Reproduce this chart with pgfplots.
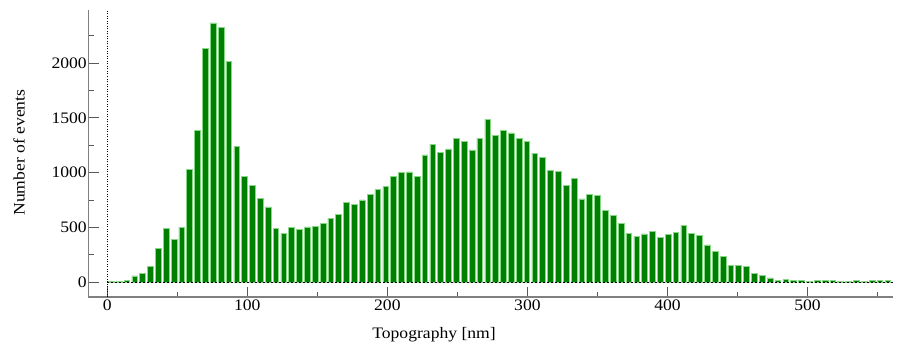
\documentclass[border=0pt]{standalone}
\usepackage{fontspec}
\setmainfont{Liberation Serif}[FakeStretch=1.1]
\usepackage{pgfplots}
\pgfplotsset{compat=1.18}
\definecolor{barfill}{RGB}{0,128,0}
\definecolor{baredge}{RGB}{135,215,135}
\definecolor{spine}{RGB}{128,128,128}
\begin{document}
\begin{tikzpicture}[x=1pt,y=1pt]
\useasboundingbox (0,0) rectangle (905,349);
\begin{axis}[
  at={(88.5pt,52pt)}, anchor=south west,
  scale only axis, width=804.5pt, height=287pt,
  xmin=-13.4, xmax=561, ymin=-137, ymax=2486,
  axis x line*=bottom, axis y line*=left,
  axis line style={spine, line width=1.2pt},
  xtick={0,100,200,300,400,500},
  minor xtick={50,150,250,350,450,550},
  ytick={0,500,1000,1500,2000},
  minor ytick={250,750,1250,1750,2250},
  tick align=inside,
  major tick length=10pt, minor tick length=5pt,
  every tick/.style={black!65, line width=0.8pt},
  /pgf/number format/assume math mode=true,
  /pgf/number format/1000 sep={},
  tick label style={font=\fontsize{16}{19}\selectfont, black},
  xticklabel style={inner sep=3pt},
  yticklabel style={inner sep=1.5pt},
  every axis x label/.style={at={(axis description cs:0.4295,-0.132)}, anchor=center, font=\fontsize{16}{19}\selectfont},
  every axis y label/.style={at={(axis description cs:-0.0864,0.503)}, anchor=center, rotate=90, font=\fontsize{16}{19}\selectfont},
  xlabel={Topography [nm]},
  ylabel={Number of events},
  clip=false,
]
\addplot[ybar, bar width=4.1, fill=barfill, draw=baredge, line width=0.6pt] coordinates {
(2.8,5) (8.4,5) (14.0,18) (19.6,55) (25.2,82) (30.8,143) (36.4,307) (42.0,489) (47.6,389) (53.2,502)
(58.8,1028) (64.4,1383) (70.0,2134) (75.6,2368) (81.2,2326) (86.8,2019) (92.4,1237) (98.0,967) (103.6,882) (109.2,765)
(114.8,686) (120.4,491) (126.0,445) (131.6,497) (137.2,478) (142.8,503) (148.4,506) (154.0,539) (159.6,582) (165.2,619)
(170.8,725) (176.4,707) (182.0,750) (187.6,798) (193.2,844) (198.8,871) (204.4,966) (210.0,1000) (215.6,1006) (221.2,966)
(226.8,1161) (232.4,1258) (238.0,1185) (243.6,1216) (249.2,1316) (254.8,1283) (260.4,1207) (266.0,1313) (271.6,1487) (277.2,1341)
(282.8,1386) (288.4,1362) (294.0,1316) (299.6,1283) (305.2,1179) (310.8,1140) (316.4,1021) (322.0,1012) (327.6,884) (333.2,948)
(338.8,759) (344.4,798) (350.0,792) (355.6,655) (361.2,612) (366.8,539) (372.4,445) (378.0,417) (383.6,439) (389.2,463)
(394.8,408) (400.4,436) (406.0,451) (411.6,518) (417.2,445) (422.8,424) (428.4,340) (434.0,277) (439.6,232) (445.2,149)
(450.8,155) (456.4,143) (462.0,82) (467.6,58) (473.2,37) (478.8,18) (484.4,21) (490.0,12) (495.6,12) (501.2,9)
(506.8,15) (512.4,12) (518.0,12) (523.6,9) (529.2,9) (534.8,12) (540.4,9) (546.0,15) (551.6,12) (557.2,12)
};
\addplot[black, line width=0.5pt, dash pattern=on 2pt off 2pt] coordinates {(0,0) (561,0)};
\addplot[black, line width=0.5pt, dash pattern=on 1pt off 1.5pt] coordinates {(0,-137) (0,2486)};
\end{axis}
\end{tikzpicture}
\end{document}
